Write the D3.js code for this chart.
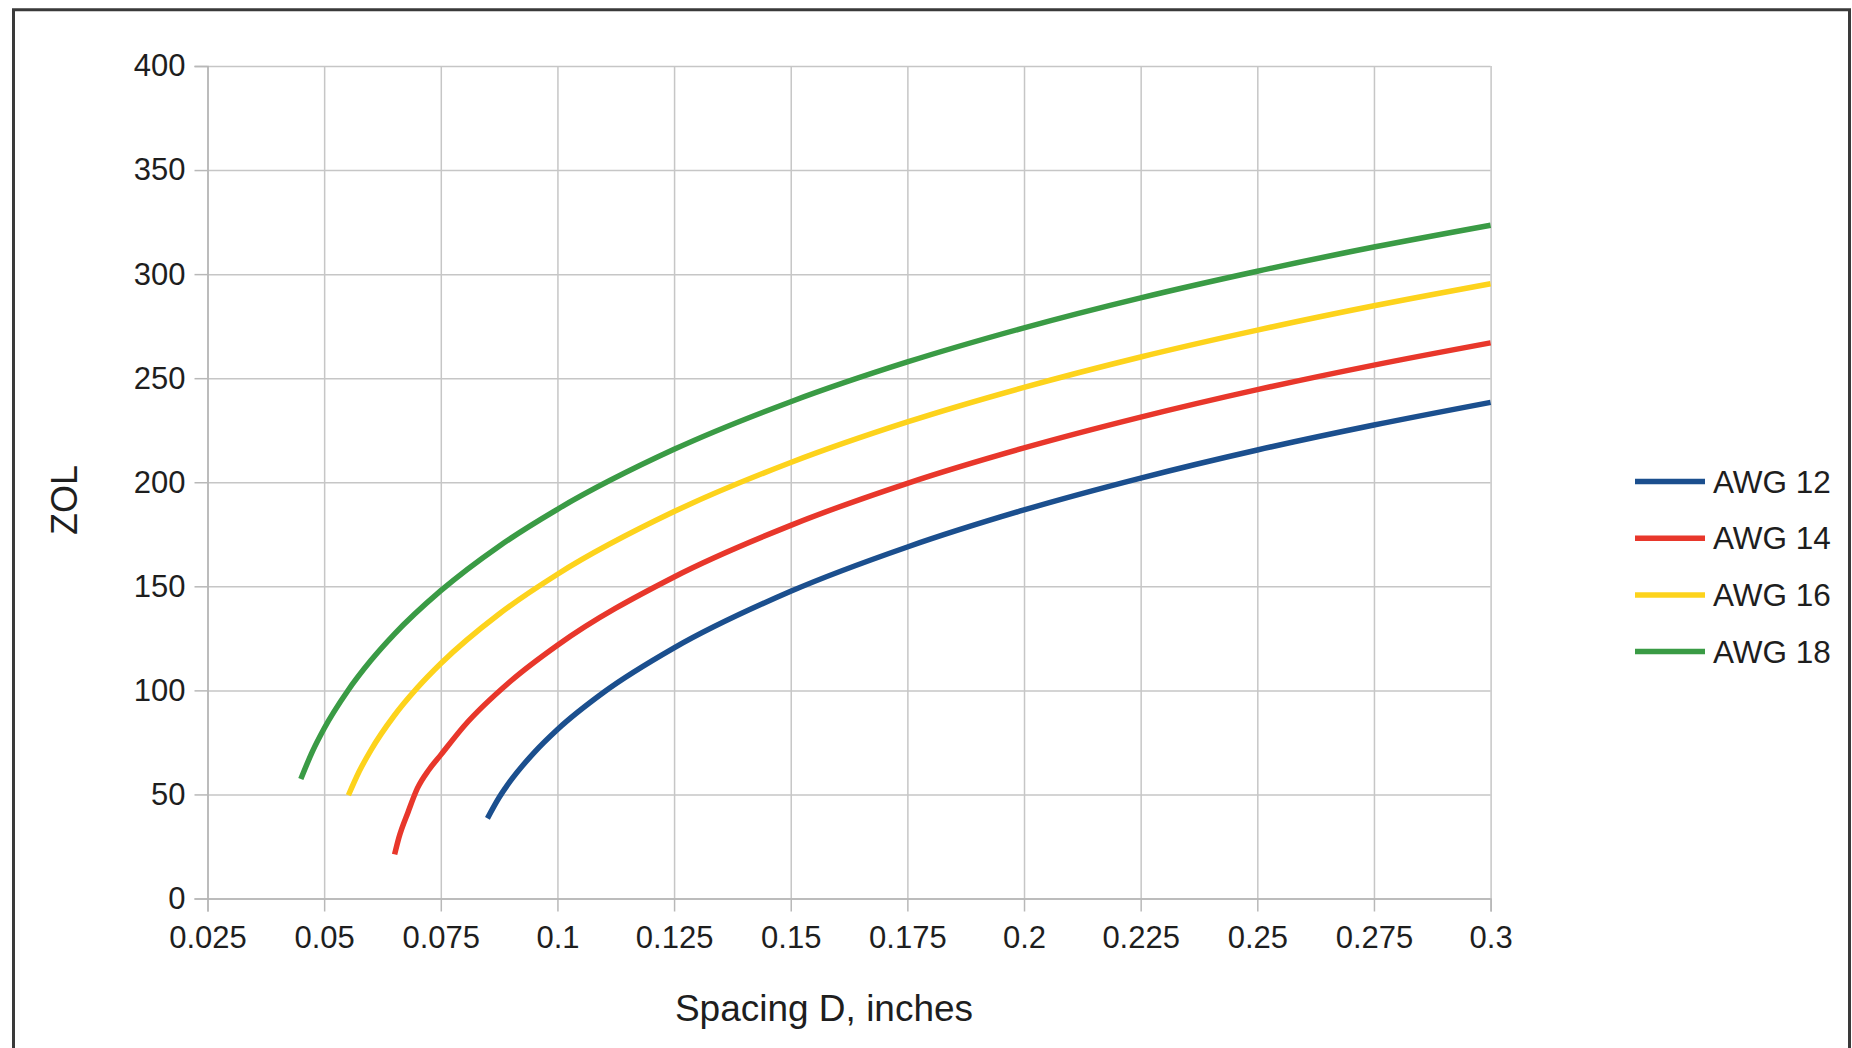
<!DOCTYPE html>
<html>
<head>
<meta charset="utf-8">
<script src="https://cdn.jsdelivr.net/npm/d3@7"></script>
<style>
  html, body { margin: 0; padding: 0; background: #fff; }
  svg { display: block; }
  text { font-family: "Liberation Sans", Arial, sans-serif; fill: #1e1e1e; }
</style>
</head>
<body>
<svg id="chart" width="1852" height="1048"></svg>
<script>
// ---- Data ----
const seriesNames = ["AWG 12", "AWG 14", "AWG 16", "AWG 18"];
const seriesColors = ["#1b4f8e", "#e8372b", "#fdd31c", "#3a9b45"];

const awg12D = [0.085, 0.0875, 0.09, 0.095, 0.1, 0.11, 0.125, 0.15, 0.175, 0.2, 0.225, 0.25, 0.275, 0.3];
const awg12Z = [38.5, 48.5, 56.7, 70.1, 81.2, 99.2, 120.4, 147.6, 168.9, 186.7, 202.0, 215.5, 227.5, 238.4];

const awg14D = [0.0651, 0.066, 0.068, 0.07, 0.0725, 0.075, 0.08, 0.09, 0.1, 0.125, 0.15, 0.175, 0.2, 0.225, 0.25, 0.275, 0.3];
const awg14Z = [21.2, 29.1, 41.6, 53.0, 62.0, 69.0, 82.9, 104.5, 121.7, 154.5, 179.3, 199.5, 216.5, 231.3, 244.5, 256.3, 267.0];

const awg16D = [0.0552, 0.0575, 0.06, 0.065, 0.07, 0.075, 0.0875, 0.1, 0.125, 0.15, 0.175, 0.2, 0.225, 0.25, 0.275, 0.3];
const awg16Z = [49.6, 61.0, 71.2, 87.8, 101.3, 112.9, 136.7, 155.8, 185.9, 209.5, 229.0, 245.6, 260.2, 273.1, 284.8, 295.4];

const awg18D = [0.045, 0.0475, 0.05, 0.055, 0.06, 0.065, 0.075, 0.0875, 0.1, 0.125, 0.15, 0.175, 0.2, 0.225, 0.25, 0.275, 0.3];
const awg18Z = [57.4, 70.7, 81.7, 99.6, 114.3, 126.9, 147.9, 169.3, 187.0, 215.8, 238.7, 257.8, 274.2, 288.6, 301.4, 313.0, 323.5];

const xTicks = [0.025, 0.05, 0.075, 0.1, 0.125, 0.15, 0.175, 0.2, 0.225, 0.25, 0.275, 0.3];
const xTickLabels = ["0.025", "0.05", "0.075", "0.1", "0.125", "0.15", "0.175", "0.2", "0.225", "0.25", "0.275", "0.3"];
const yTicks = [0, 50, 100, 150, 200, 250, 300, 350, 400];

const xTitle = "Spacing D, inches";
const yTitle = "ZOL";

// ---- Build series table ----
const seriesD = [awg12D, awg14D, awg16D, awg18D];
const seriesZ = [awg12Z, awg14Z, awg16Z, awg18Z];
const series = seriesNames.map((name, i) => ({
  name, color: seriesColors[i],
  points: seriesD[i].map((d, j) => ({ x: d, y: seriesZ[i][j] }))
}));

// ---- Layout ----
const svg = d3.select("#chart");
const plotLeft = 207.5, plotRight = 1490.6, plotTop = 66, plotBottom = 898.5;

const x = d3.scaleLinear().domain([0.025, 0.3]).range([plotLeft, plotRight]);
const y = d3.scaleLinear().domain([0, 400]).range([plotBottom, plotTop]);

// frame border
svg.append("path")
  .attr("d", `M13.5,1060 L13.5,9.7 L1849.5,9.7 L1849.5,1060`)
  .attr("fill", "none").attr("stroke", "#3a3a3a").attr("stroke-width", 3);

const gridColor = "#c6c6c6";

// grid (vertical)
const gx = svg.append("g").attr("transform", `translate(0,${plotBottom})`)
  .call(d3.axisBottom(x).tickValues(xTicks).tickSize(-(plotBottom - plotTop)).tickFormat(""));
gx.select(".domain").remove();
gx.selectAll("line").attr("stroke", gridColor).attr("stroke-width", 1.5);

// grid (horizontal)
const gy = svg.append("g").attr("transform", `translate(${plotLeft},0)`)
  .call(d3.axisLeft(y).tickValues(yTicks).tickSize(-(plotRight - plotLeft)).tickFormat(""));
gy.select(".domain").remove();
gy.selectAll("line").attr("stroke", gridColor).attr("stroke-width", 1.5);

// x axis ticks + labels
const ax = svg.append("g").attr("transform", `translate(0,${plotBottom})`)
  .call(d3.axisBottom(x).tickValues(xTicks).tickSize(13).tickPadding(14)
    .tickFormat((d, i) => xTickLabels[i]));
ax.select(".domain").attr("stroke", "#b4b4b4").attr("stroke-width", 1.5);
ax.selectAll("line").attr("stroke", "#b8b8b8").attr("stroke-width", 1.5);
ax.selectAll("text").attr("font-size", 31).attr("fill", "#1e1e1e")
  .style("font-family", "'Liberation Sans', Arial, sans-serif");

// y axis ticks + labels
const ay = svg.append("g").attr("transform", `translate(${plotLeft},0)`)
  .call(d3.axisLeft(y).tickValues(yTicks).tickSize(13).tickPadding(9));
ay.select(".domain").attr("stroke", "#b4b4b4").attr("stroke-width", 1.5);
ay.selectAll("line").attr("stroke", "#b8b8b8").attr("stroke-width", 1.5);
ay.selectAll("text").attr("font-size", 31).attr("fill", "#1e1e1e")
  .style("font-family", "'Liberation Sans', Arial, sans-serif");

// series lines
const line = d3.line().x(d => x(d.x)).y(d => y(d.y)).curve(d3.curveMonotoneX);
svg.append("g").selectAll("path").data(series).join("path")
  .attr("d", d => line(d.points))
  .attr("fill", "none")
  .attr("stroke", d => d.color)
  .attr("stroke-width", 5.5)
  .attr("stroke-linejoin", "round")
  .attr("stroke-linecap", "butt");

// axis titles
svg.append("text").attr("x", 824).attr("y", 1021)
  .attr("text-anchor", "middle").attr("font-size", 37).text(xTitle);
svg.append("text")
  .attr("transform", `translate(77,500) rotate(-90)`)
  .attr("text-anchor", "middle").attr("font-size", 36).text(yTitle);

// legend
const legendTop = 481.5, legendStep = 56.7;
const lg = svg.append("g").selectAll("g").data(series).join("g")
  .attr("transform", (d, i) => `translate(0,${legendTop + i * legendStep})`);
lg.append("line").attr("x1", 1635).attr("x2", 1705).attr("y1", 0).attr("y2", 0)
  .attr("stroke", d => d.color).attr("stroke-width", 5.5);
lg.append("text").attr("x", 1713).attr("y", 0).attr("dy", "0.35em")
  .attr("font-size", 31.5).text(d => d.name);
</script>
</body>
</html>
